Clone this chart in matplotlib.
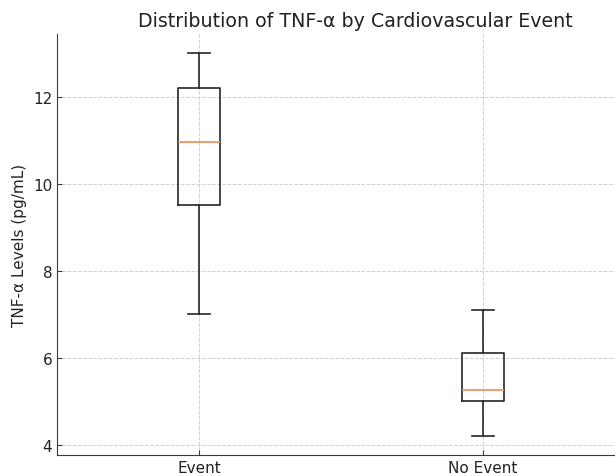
import matplotlib
matplotlib.use('Agg')
import matplotlib.pyplot as plt

# Box statistics (pg/mL)
groups = ['Event', 'No Event']
whislo = [7.0, 4.2]
q1 = [9.5, 5.0]
med = [10.95, 5.25]
q3 = [12.2, 6.1]
whishi = [13.0, 7.1]

stats = []
for i, g in enumerate(groups):
    stats.append({'label': g, 'whislo': whislo[i], 'q1': q1[i], 'med': med[i],
                  'q3': q3[i], 'whishi': whishi[i], 'fliers': []})

fig = plt.figure(figsize=(6.15, 4.77), dpi=100)
ax = fig.add_axes([57/615, 21/477, 568/615, 421/477])

line_col = '#262626'
ax.bxp(stats, widths=0.15, showfliers=False,
       boxprops=dict(color=line_col, linewidth=1.2),
       whiskerprops=dict(color=line_col, linewidth=1.2),
       capprops=dict(color=line_col, linewidth=1.2),
       medianprops=dict(color='#ee8a55', linewidth=1.2))

ax.grid(True, linestyle='--', color='#d0d0d0', linewidth=0.7)
ax.set_axisbelow(True)
ax.spines['top'].set_visible(False)
ax.spines['right'].set_visible(False)
for s in ['left', 'bottom']:
    ax.spines[s].set_color('#3a3a3a')
ax.tick_params(direction='in', colors='#3a3a3a', labelsize=11, labelcolor='#222222')
ax.set_yticks([4, 6, 8, 10, 12])
ax.set_ylabel('TNF-α Levels (pg/mL)', fontsize=11, color='#222222')
ax.set_title('Distribution of TNF-α by Cardiovascular Event', fontsize=13.7,
             color='#222222', x=0.525)

plt.savefig('out.png', dpi=100)
plt.close()
